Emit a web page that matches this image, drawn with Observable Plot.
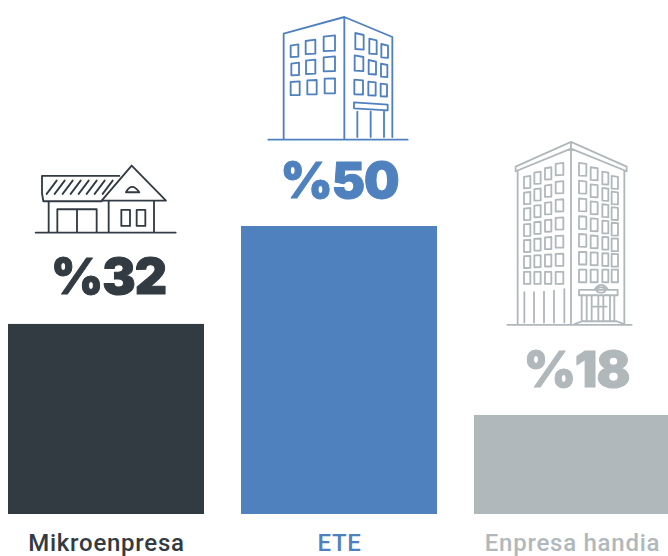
<!DOCTYPE html>
<html><head><meta charset="utf-8">
<script src="https://cdn.jsdelivr.net/npm/d3@7"></script>
<script src="https://cdn.jsdelivr.net/npm/@observablehq/plot@0.6"></script>
<style>html,body{margin:0;padding:0;background:#fff;overflow:hidden}svg{display:block}.tick{letter-spacing:.75px}.share{letter-spacing:-1px}</style>
</head><body><div id="chart"></div>
<script>
const categories = ["Mikroenpresa", "ETE", "Enpresa handia"];
// bar lengths as drawn in the picture, next to the printed shares
const barLengths = [33, 50, 17.2];
const shareLabels = ["%32", "%50", "%18"];
const colors = ["#323a42", "#4f81bf", "#b1b8bb"];

const rows = categories.map((c, i) => ({c, v: barLengths[i], label: shareLabels[i], color: colors[i]}));

function rect(x0, y0, x1, y1, skew = 0) {
  return `M${x0} ${y0 + skew}L${x1} ${y0}V${y1}L${x0} ${y1 + skew * 0.3}Z`;
}
function rectR(x0, y0, x1, y1, skew = 0) {
  return `M${x0} ${y0}L${x1} ${y0 + skew}V${y1 + skew * 0.3}L${x0} ${y1}Z`;
}
const house = [
  "M47 248H467",
  "M298 78H66V130L70 154H245",
  "M245 152L335 47L438 152H245",
  "M86 154V248M266 152V248M402 152V248",
  "M112 248V178H230V248M171 178V248",
  "M304 180H330V228H304ZM350 180H376V228H350Z",
  "M318 127Q335 95 358 127Z",
  ...[0,1,2,3,4,5,6,7].map(k => `M${80 + k * 24} 132L${110 + k * 24} 92`)
].join("");
const midBuilding = [
  "M40 404H458",
  "M86 404V86L268 36L412 96V396",
  "M268 36V402",
  rect(107,118,130,155,4), rect(152,104,181,146,4), rect(206,91,240,137,4),
  rect(109,173,132,210,3), rect(153,164,181,206,3), rect(206,154,240,198,3),
  rect(107,229,134,270,2), rect(157,225,185,268,1), rect(209,220,240,265,1),
  rectR(301,84,326,132,6), rectR(343,101,365,146,5), rectR(379,117,399,157,5),
  rectR(299,151,325,197,5), rectR(341,165,363,207,5), rectR(378,176,397,215,4),
  rectR(298,224,324,268,2), rectR(340,230,362,271,2), rectR(377,236,396,274,2),
  "M297 292L398 299V316L297 310Z",
  "M307 320V396M347 320V396M387 320V396"
].join("");
const tallCols = [[87,106],[118,137],[150,169],[182,205]];
const tallColsR = [[252,274],[287,308],[322,340],[350,369]];
let tallWindows = "";
for (let r = 0; r < 7; r++) {
  const t = r / 6;
  tallCols.forEach(([a, b], k) => {
    const top = 138 - k * 13 * (1 - t) + r * 48;
    tallWindows += rect(a, top, b, top + 36, 3 * (1 - t));
  });
  tallColsR.forEach(([a, b], k) => {
    const top = 99 + k * 13 * (1 - t) + (r / 6) * 320;
    tallWindows += rectR(a, top, b, top + 38, 3 * (1 - t));
  });
}
const tallBuilding = [
  "M37 585H410",
  "M62 110L228 36L395 110V124L228 56L62 124Z",
  "M68 122V583M228 40V583M388 122V583",
  tallWindows,
  "M88 487V578M117 487V578M147 485V578M177 482V578M208 478V578",
  "M252 480H368V496H252ZM298 480Q318 450 340 480M305 480a13 8 0 1 0 26 0a13 8 0 1 0 -26 0",
  "M260 496V572M275 496V572M290 496V572M310 496V572M325 496V572M345 496V572M358 496V572M295 530H335",
  "M240 582L262 574H365L385 582"
].join("");
const icons = [
  {d: house, dx: 12, dy: -174},
  {d: midBuilding, dx: 14, dy: -221},
  {d: tallBuilding, dx: 21, dy: -285}
];
const labelGaps = [-46, -45, -44];
const labelShifts = [2, 0, 4];

function iconMark(index, {x, y}) {
  const g = d3.create("svg:g");
  rows.forEach((r, i) => {
    g.append("path")
      .attr("d", icons[i].d)
      .attr("fill", "none")
      .attr("stroke", r.color)
      .attr("stroke-width", 5.5)
      .attr("stroke-linejoin", "round")
      .attr("stroke-linecap", "round")
      .attr("transform", `translate(${x(r.c) + icons[i].dx},${y(r.v) + icons[i].dy}) scale(${1 / 3})`);
  });
  return g.node();
}

const chart = Plot.plot({
  width: 668, height: 556,
  marginTop: 0, marginRight: 0, marginBottom: 0, marginLeft: 0,
  x: {domain: categories, range: [8, 670], paddingInner: 37 / 233, paddingOuter: 0, axis: null},
  y: {domain: [0, 50], range: [514, 226], axis: null},
  marks: [
    Plot.barY(rows, {x: "c", y: "v", fill: d => d.color}),
    ...rows.map((r, i) => Plot.text([r], {
      x: "c", y: "v", text: "label", fill: r.color, stroke: r.color, strokeWidth: 1,
      strokeLinejoin: "round", dy: labelGaps[i], dx: labelShifts[i],
      fontSize: 50, fontWeight: 900, fontFamily: "Inter", className: "share"
    })),
    Plot.text(rows, {
      x: "c", y: () => 0, text: "c", fill: d => d.color, dy: 29,
      fontSize: 24, fontWeight: 500, fontFamily: "Roboto", className: "tick"
    }),
    iconMark
  ]
});
document.getElementById("chart").append(chart);
</script></body></html>
